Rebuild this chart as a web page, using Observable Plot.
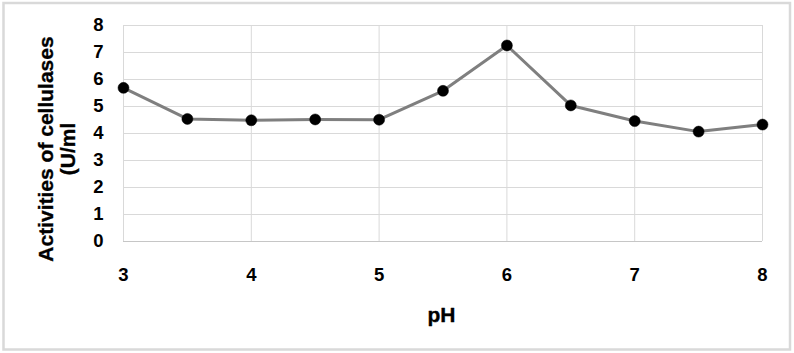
<!DOCTYPE html>
<html>
<head>
<meta charset="utf-8">
<script src="https://cdn.jsdelivr.net/npm/d3@7"></script>
<script src="https://cdn.jsdelivr.net/npm/@observablehq/plot@0.6"></script>
<style>
  html, body { margin: 0; padding: 0; background: #fff; }
</style>
</head>
<body>
<div id="chart"></div>
<script>
const pH = [3, 3.5, 4, 4.5, 5, 5.5, 6, 6.5, 7, 7.5, 8];
const activity = [5.69, 4.54, 4.49, 4.52, 4.51, 5.58, 7.26, 5.04, 4.46, 4.07, 4.33];
const xTicks = [3, 4, 5, 6, 7, 8];
const yTicks = [0, 1, 2, 3, 4, 5, 6, 7, 8];
const xTitle = "pH";
const yTitle = "Activities of cellulases\n(U/ml";

const data = pH.map((p, i) => ({pH: p, activity: activity[i]}));
const FONT = "'Liberation Sans', Arial, sans-serif";

const chart = Plot.plot({
  width: 794,
  height: 353,
  marginLeft: 123,
  marginRight: 32,
  marginTop: 25,
  marginBottom: 112,
  style: {
    fontFamily: FONT,
    fontSize: "18.5px",
    fontWeight: "bold",
    color: "#000",
    background: "#fff"
  },
  x: {domain: [3, 8], label: null},
  y: {domain: [0, 8], label: null},
  marks: [
    Plot.gridX(xTicks, {stroke: "#d9d9d9", strokeOpacity: 1, strokeWidth: 1}),
    Plot.gridY(yTicks, {stroke: "#d9d9d9", strokeOpacity: 1, strokeWidth: 1}),
    Plot.ruleY([0], {stroke: "#c6c6c6", strokeWidth: 1.2}),
    Plot.axisX(xTicks, {tickSize: 0, tickPadding: 26, label: null, tickFormat: d => String(d), fontSize: 18.5, fontWeight: "bold", fill: "#000", stroke: "#000", strokeWidth: 0.35}),
    Plot.axisY(yTicks, {tickSize: 0, tickPadding: 20, label: null, tickFormat: d => String(d), fontSize: 18.5, fontWeight: "bold", fill: "#000", stroke: "#000", strokeWidth: 0.35}),
    Plot.line(data, {x: "pH", y: "activity", stroke: "#7f7f7f", strokeWidth: 3}),
    Plot.dot(data, {x: "pH", y: "activity", r: 5.5, fill: "#000", stroke: "#000", strokeWidth: 0.5}),
    Plot.text([yTitle], {
      text: d => d, frameAnchor: "left", rotate: -90, textAnchor: "middle", lineAnchor: "middle",
      lineHeight: 1.05, dx: -67, dy: 15.5, fontSize: 21, fontWeight: "bold", fill: "#000", stroke: "#000", strokeWidth: 0.35
    }),
    Plot.text([xTitle], {
      text: d => d, frameAnchor: "bottom", textAnchor: "middle", lineAnchor: "middle",
      dy: 74, dx: -1.5, fontSize: 21, fontWeight: "bold", fill: "#000", stroke: "#000", strokeWidth: 0.35
    })
  ]
});

chart.querySelectorAll('g[aria-label$="tick label"]').forEach(g => {
  g.setAttribute("font-size", "18.5");
  g.style.fontSize = "18.5px";
});

d3.select(chart).append("rect")
  .attr("x", 3.5).attr("y", 3).attr("width", 786.5).attr("height", 346.5)
  .attr("fill", "none").attr("stroke", "#d9d9d9").attr("stroke-width", 2.5);

document.getElementById("chart").appendChild(chart);
</script>
</body>
</html>
